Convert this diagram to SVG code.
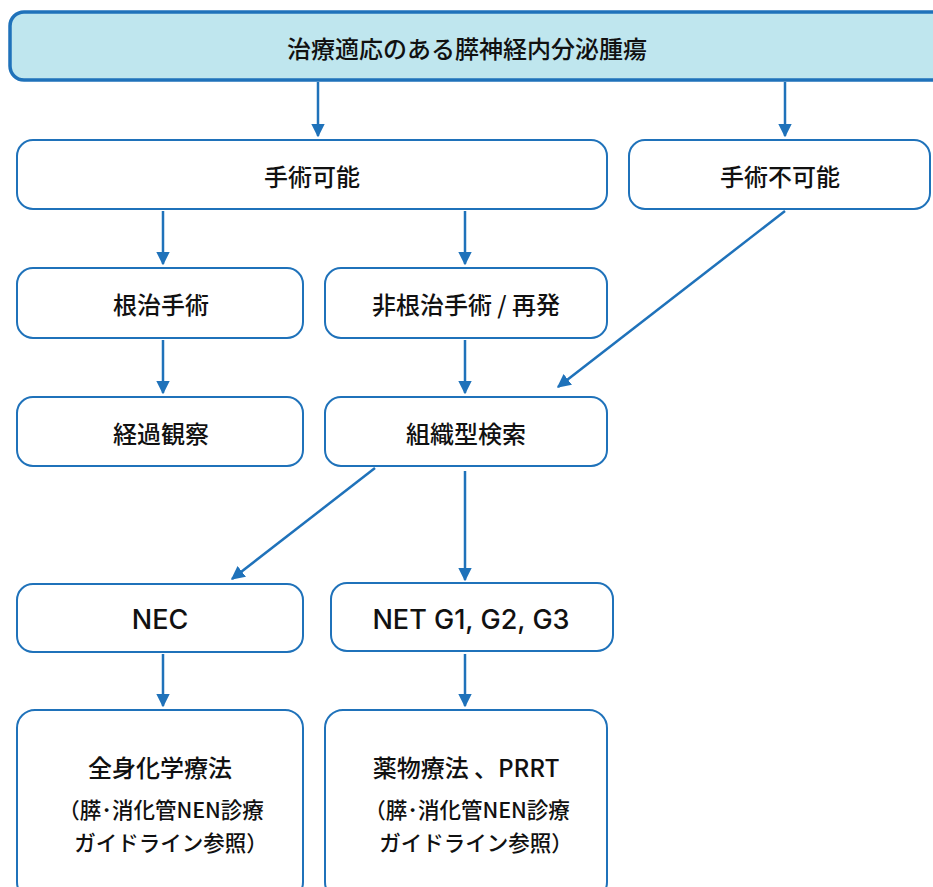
<svg xmlns="http://www.w3.org/2000/svg" width="933" height="887" viewBox="0 0 933 887">
<style>
.box{fill:#ffffff;stroke:#1f72ba;stroke-width:2}
.top{fill:#bfe6ee;stroke:#1f72ba;stroke-width:3.5}
.t{font-family:"Noto Sans CJK JP","Noto Sans",sans-serif;font-size:24px;font-weight:500;fill:#111;text-anchor:middle;dominant-baseline:central}
.s{font-size:21.5px}
.l{font-family:Inter,"Noto Sans CJK JP",sans-serif;font-size:27px}
.c{stroke:#1f72ba;stroke-width:2.5;fill:none;marker-end:url(#ah)}
</style>
<defs>
<marker id="ah" viewBox="0 0 10 10" refX="9" refY="5" markerWidth="5.5" markerHeight="5.5" orient="auto" markerUnits="strokeWidth">
<path d="M0,0 L10,5 L0,10 z" fill="#1f72ba"/>
</marker>
</defs>
<rect width="933" height="887" fill="#ffffff"/>
<g id="connectors">
<line class="c" x1="318" y1="82" x2="318" y2="136"/>
<line class="c" x1="785" y1="82" x2="785" y2="136"/>
<line class="c" x1="163" y1="211" x2="163" y2="264"/>
<line class="c" x1="465" y1="211" x2="465" y2="264"/>
<line class="c" x1="163" y1="340" x2="163" y2="393"/>
<line class="c" x1="465" y1="340" x2="465" y2="393"/>
<line class="c" x1="785" y1="211" x2="558" y2="387"/>
<line class="c" x1="375" y1="468" x2="232" y2="579"/>
<line class="c" x1="465" y1="471" x2="465" y2="580"/>
<line class="c" x1="163" y1="654" x2="163" y2="706"/>
<line class="c" x1="465" y1="654" x2="465" y2="706"/>
</g>
<g id="n-root">
<rect class="top" x="10" y="12" width="940" height="68" rx="14"/>
<text class="t" x="467" y="47">治療適応のある膵神経内分泌腫瘍</text>
</g>
<g id="n-op">
<rect class="box" x="17" y="140" width="590" height="69" rx="16"/>
<text class="t" x="312" y="175">手術可能</text>
</g>
<g id="n-nonop">
<rect class="box" x="629" y="140" width="301" height="69" rx="16"/>
<text class="t" x="780" y="175">手術不可能</text>
</g>
<g id="n-radical">
<rect class="box" x="17" y="268" width="286" height="70" rx="16"/>
<text class="t" x="161" y="303">根治手術</text>
</g>
<g id="n-nonradical">
<rect class="box" x="325" y="268" width="282" height="70" rx="16"/>
<text class="t" x="466" y="303">非根治手術 / 再発</text>
</g>
<g id="n-observe">
<rect class="box" x="17" y="397" width="286" height="69" rx="16"/>
<text class="t" x="161" y="432">経過観察</text>
</g>
<g id="n-histo">
<rect class="box" x="325" y="397" width="282" height="69" rx="16"/>
<text class="t" x="466" y="432">組織型検索</text>
</g>
<g id="n-nec">
<rect class="box" x="17" y="584" width="286" height="68" rx="16"/>
<text class="t l" x="160" y="619">NEC</text>
</g>
<g id="n-net">
<rect class="box" x="331" y="583" width="282" height="68" rx="16"/>
<text class="t l" x="471" y="619">NET G1, G2, G3</text>
</g>
<g id="n-chemo">
<rect class="box" x="17" y="710" width="286" height="190" rx="18"/>
<text class="t" x="160" y="766">全身化学療法</text>
<text class="t s" x="161" y="808">（膵･消化管NEN診療</text>
<text class="t s" x="171" y="841">ガイドライン参照）</text>
</g>
<g id="n-drug">
<rect class="box" x="325" y="710" width="282" height="190" rx="18"/>
<text class="t" x="466" y="766">薬物療法 、PRRT</text>
<text class="t s" x="467" y="808">（膵･消化管NEN診療</text>
<text class="t s" x="476" y="841">ガイドライン参照）</text>
</g>
</svg>
